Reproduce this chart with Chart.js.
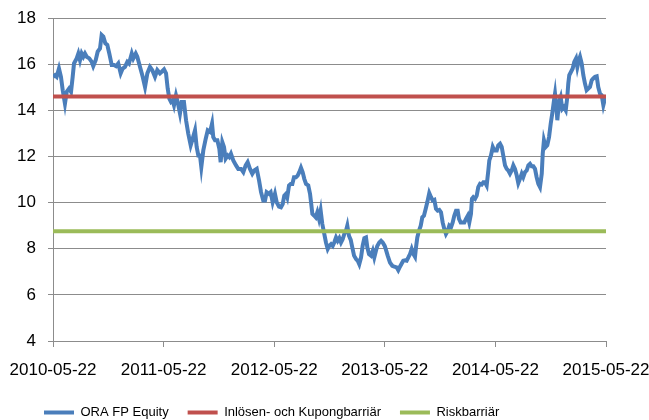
<!DOCTYPE html>
<html>
<head>
<meta charset="utf-8">
<title>ORA FP Equity</title>
<script src="https://cdn.jsdelivr.net/npm/chart.js@4"></script>
<style>
    body { margin: 0; background: #ffffff; }
    #chartBox { width: 649px; height: 420px; }
</style>
</head>
<body>
<div id="chartBox"><canvas id="priceChart" width="649" height="420"></canvas></div>
<script>
// Axis labels (x axis runs in years from the first tick)
const tickLabels = ['2010-05-22', '2011-05-22', '2012-05-22', '2013-05-22', '2014-05-22', '2015-05-22'];
const seriesNames = ['ORA FP Equity', 'Inlösen- och Kupongbarriär', 'Riskbarriär'];

// Barrier levels
const couponBarrier = 14.6;
const riskBarrier = 8.76;

// Years since 2010-05-22
const yearOffsets = [
    0, 0.018, 0.033, 0.054, 0.072, 0.088, 0.108, 0.124, 0.145, 0.163, 0.178, 0.19, 0.214, 0.229, 0.244, 0.259, 0.274, 0.289, 0.305, 0.328,
    0.35, 0.364, 0.386, 0.404, 0.425, 0.44, 0.455, 0.473, 0.491, 0.509, 0.531, 0.552, 0.57, 0.59, 0.612, 0.63, 0.651, 0.672, 0.687, 0.712,
    0.726, 0.748, 0.762, 0.787, 0.811, 0.832, 0.853, 0.877, 0.898, 0.922, 0.943, 0.967,
    0.983, 1.004, 1.022, 1.037, 1.052, 1.067, 1.082, 1.094, 1.112, 1.127, 1.148, 1.164, 1.184, 1.203, 1.223, 1.245, 1.263, 1.284, 1.299, 1.314,
    1.329, 1.341, 1.359, 1.381, 1.399, 1.42, 1.438, 1.449, 1.465, 1.486, 1.504, 1.516, 1.531, 1.546, 1.561, 1.58, 1.594, 1.609, 1.63, 1.655,
    1.675, 1.7, 1.721, 1.742, 1.76, 1.781, 1.802, 1.82, 1.842, 1.863, 1.881, 1.901, 1.917, 1.932, 1.953, 1.968, 1.986, 2.007,
    2.023, 2.043, 2.061, 2.077, 2.091, 2.107, 2.118, 2.134, 2.149, 2.164, 2.179, 2.197, 2.212, 2.227, 2.242, 2.257, 2.272, 2.288, 2.308, 2.324,
    2.333, 2.345, 2.36, 2.375, 2.39, 2.405, 2.42, 2.435, 2.45, 2.468, 2.484, 2.498, 2.514, 2.529, 2.543, 2.559, 2.574, 2.589, 2.604, 2.619,
    2.634, 2.649, 2.661, 2.676, 2.692, 2.706, 2.722, 2.74, 2.755, 2.769, 2.785, 2.8, 2.815, 2.83, 2.842, 2.857, 2.875, 2.891, 2.905, 2.92,
    2.932, 2.95, 2.966, 2.981, 2.999,
    3.008, 3.026, 3.047, 3.068, 3.086, 3.108, 3.122, 3.137, 3.153, 3.167, 3.183, 3.198, 3.213, 3.228, 3.243, 3.258, 3.273, 3.282, 3.294, 3.309,
    3.325, 3.339, 3.354, 3.37, 3.384, 3.402, 3.418, 3.433, 3.448, 3.463, 3.478, 3.493, 3.508, 3.523, 3.538, 3.553, 3.569, 3.583, 3.599, 3.614,
    3.628, 3.644, 3.659, 3.671, 3.686, 3.704, 3.719, 3.734, 3.75, 3.764, 3.779, 3.788, 3.8, 3.816, 3.831, 3.845, 3.861, 3.876, 3.891, 3.906,
    3.921, 3.936, 3.945, 3.96, 3.976, 3.99,
    4.012, 4.026, 4.042, 4.057, 4.071, 4.087, 4.102, 4.117, 4.132, 4.147, 4.162, 4.177, 4.193, 4.207, 4.222, 4.238, 4.252, 4.268, 4.283, 4.298,
    4.313, 4.328, 4.343, 4.358, 4.373, 4.388, 4.403, 4.419, 4.428, 4.439, 4.455, 4.469, 4.485, 4.5, 4.514, 4.53, 4.539, 4.551, 4.56, 4.575,
    4.59, 4.605, 4.62, 4.636, 4.65, 4.659, 4.668, 4.684, 4.699, 4.713, 4.729, 4.741, 4.754, 4.765, 4.78, 4.795, 4.81, 4.825, 4.84, 4.855,
    4.871, 4.885, 4.901, 4.916, 4.93, 4.946, 4.961, 4.976, 4.991, 5.0
];

// Closing price, same order as yearOffsets
const oraPrice = [
    15.45, 15.52, 15.45, 15.81, 15.45, 14.87, 14.29, 14.8, 14.94, 14.8, 15.45, 16.03, 16.25, 16.46, 16.17, 16.46, 16.32, 16.46, 16.32, 16.25,
    16.1, 15.91, 16.17, 16.54, 16.68, 17.26, 17.19, 16.9, 16.83, 16.46, 15.96, 15.96, 15.91, 16.03, 15.6, 15.81, 15.88, 16.1, 16.03, 16.46,
    16.25, 16.46, 16.32, 15.88, 15.45, 15.01, 15.6, 15.88, 15.74, 15.45, 15.74, 15.6,
    15.67, 15.77, 15.6, 14.94, 14.51, 14.36, 14.43, 14.22, 14.65, 14.36, 13.86, 14.36, 14.36, 13.57, 12.99, 12.48, 12.77, 13.13, 12.41, 12.04,
    12.04, 11.54, 12.26, 12.77, 13.13, 13.06, 13.42, 12.84, 12.7, 12.7, 12.33, 11.75, 12.62, 12.41, 11.9, 12.04, 11.97, 12.12, 11.83, 11.61,
    11.46, 11.46, 11.32, 11.61, 11.75, 11.46, 11.25, 11.39, 11.46, 10.96, 10.45, 10.09, 10.09, 10.45, 10.38, 10.45, 10.01, 10.38,
    10.01, 9.83, 9.8, 9.94, 10.3, 10.38, 10.23, 10.74, 10.81, 10.81, 11.1, 11.1, 11.17, 11.32, 11.51, 11.32, 11.03, 10.81, 10.74, 10.38,
    10.01, 9.51, 9.44, 9.36, 9.58, 9.29, 9.65, 9.07, 8.71, 8.27, 7.99, 8.12, 8.2, 8.12, 8.27, 8.49, 8.34, 8.46, 8.27, 8.41,
    8.64, 8.78, 9.0, 8.56, 8.38, 8.06, 7.7, 7.55, 7.48, 7.33, 7.62, 8.13, 8.46, 8.49, 8.06, 7.77, 7.7, 7.91, 7.62, 7.91,
    8.12, 8.27, 8.34, 8.27, 8.12,
    7.99, 7.7, 7.4, 7.26, 7.22, 7.19, 7.07, 7.22, 7.36, 7.48, 7.5, 7.48, 7.62, 7.77, 7.99, 7.77, 7.65, 8.05, 8.49, 8.78,
    9.0, 9.36, 9.43, 9.73, 10.01, 10.41, 10.23, 10.09, 10.12, 9.73, 9.65, 9.68, 9.58, 9.14, 8.86, 8.64, 8.78, 9.0, 8.93, 9.14,
    9.43, 9.65, 9.65, 9.29, 9.14, 9.14, 9.14, 9.29, 9.43, 9.14, 9.51, 10.16, 10.23, 10.16, 10.3, 10.67, 10.81, 10.78, 10.88, 10.88,
    10.74, 11.39, 11.83, 12.04, 12.41, 12.26,
    12.26, 12.48, 12.55, 12.41, 12.04, 11.61, 11.46, 11.39, 11.25, 11.39, 11.61, 11.46, 11.17, 10.84, 11.03, 11.25, 11.1, 11.32, 11.39, 11.61,
    11.68, 11.57, 11.57, 11.46, 11.1, 10.81, 10.67, 11.25, 12.12, 12.7, 12.41, 12.48, 12.84, 13.42, 13.86, 14.43, 14.72, 14.14, 13.57, 14.36,
    14.57, 14.06, 14.14, 14.0, 14.57, 15.16, 15.52, 15.67, 15.81, 16.1, 16.25, 15.88, 16.17, 16.32, 16.03, 15.52, 15.16, 14.87, 14.94, 15.01,
    15.3, 15.38, 15.45, 15.47, 15.01, 14.72, 14.65, 14.22, 14.51, 14.65
];

const FONT = "'Liberation Sans', Arial, sans-serif";
const GRID_GREY = '#8c8c8c';

/**
 * Flat barrier line across the whole period
 */
function barrierLine(level) {
    return [
        { x: 0, y: level },
        { x: tickLabels.length - 1, y: level }
    ];
}

// Legend sits left of centre in the original, nudge its box after layout
const legendShift = {
    id: 'legendShift',
    afterLayout(chart) {
        chart.legend.left = 25;
    }
};

const ctx = document.getElementById('priceChart').getContext('2d');

new Chart(ctx, {
    type: 'line',
    data: {
        datasets: [
            {
                label: seriesNames[0],
                data: yearOffsets.map((t, i) => ({ x: t, y: oraPrice[i] })),
                borderColor: '#4a7ebb',
                borderWidth: 4,
                pointRadius: 0,
                tension: 0,
                order: 1
            },
            {
                label: seriesNames[1],
                data: barrierLine(couponBarrier),
                borderColor: '#c0504d',
                borderWidth: 4,
                pointRadius: 0,
                order: 0
            },
            {
                label: seriesNames[2],
                data: barrierLine(riskBarrier),
                borderColor: '#9bbb59',
                borderWidth: 4,
                pointRadius: 0,
                order: 0
            }
        ]
    },
    options: {
        responsive: false,
        animation: false,
        devicePixelRatio: 1,
        layout: {
            padding: { top: 18, right: 43, bottom: -9, left: 0 }
        },
        plugins: {
            tooltip: { enabled: false },
            legend: {
                position: 'bottom',
                align: 'start',
                labels: {
                    color: '#000000',
                    font: { family: FONT, size: 13 },
                    usePointStyle: true,
                    pointStyle: 'line',
                    pointStyleWidth: 30,
                    boxWidth: 26,
                    padding: 19,
                    sort: (a, b) => a.datasetIndex - b.datasetIndex
                }
            }
        },
        scales: {
            x: {
                type: 'linear',
                min: 0,
                max: tickLabels.length - 1,
                afterFit: (scale) => {
                    scale.height = 46;
                    scale.paddingLeft = 0;
                    scale.paddingRight = 0;
                },
                ticks: {
                    stepSize: 1,
                    autoSkip: false,
                    maxRotation: 0,
                    padding: 13,
                    color: '#000000',
                    font: { family: FONT, size: 17 },
                    callback: (value) => tickLabels[value]
                },
                grid: {
                    drawOnChartArea: false,
                    drawTicks: true,
                    tickLength: 6,
                    color: GRID_GREY
                },
                border: { color: GRID_GREY, width: 1 }
            },
            y: {
                min: 4,
                max: 18,
                afterFit: (scale) => {
                    scale.width = 53;
                    scale.paddingTop = 0;
                    scale.paddingBottom = 0;
                },
                ticks: {
                    stepSize: 2,
                    padding: 12,
                    color: '#000000',
                    font: { family: FONT, size: 17 }
                },
                grid: {
                    color: GRID_GREY,
                    tickLength: 5
                },
                border: { color: GRID_GREY, width: 1 }
            }
        }
    },
    plugins: [legendShift]
});
</script>
</body>
</html>
